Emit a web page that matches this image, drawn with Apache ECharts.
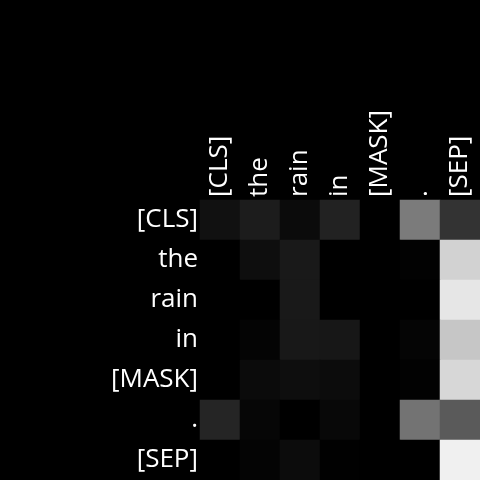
<!DOCTYPE html>
<html><head><meta charset="utf-8">
<script src="https://cdn.jsdelivr.net/npm/echarts@6/dist/echarts.min.js"></script>
<style>html,body{margin:0;padding:0;background:#000}#c{width:480px;height:480px}</style>
</head><body><div id="c"></div>
<script>
const tokens = ['[CLS]','the','rain','in','[MASK]','.','[SEP]'];
const weights = [
  [0.067,0.110,0.043,0.133,0.0,0.482,0.200],
  [0.0,0.055,0.098,0.0,0.0,0.008,0.824],
  [0.0,0.0,0.098,0.0,0.0,0.0,0.902],
  [0.0,0.016,0.094,0.090,0.0,0.020,0.776],
  [0.0,0.043,0.055,0.047,0.0,0.008,0.843],
  [0.145,0.024,0.0,0.031,0.0,0.451,0.353],
  [0.0,0.016,0.047,0.004,0.0,0.0,0.941]
];
const data = [];
weights.forEach((row,i)=>row.forEach((v,j)=>data.push([j,i,v])));
const chart = echarts.init(document.getElementById('c'));
chart.setOption({
  backgroundColor:'#000',
  animation:false,
  grid:{left:200,top:200,right:0,bottom:0},
  xAxis:{type:'category',data:tokens,position:'top',
    axisLine:{show:false},axisTick:{show:false},splitLine:{show:false},
    axisLabel:{rotate:-90,color:'#fff',fontSize:26,fontFamily:'Open Sans',margin:3,interval:0}},
  yAxis:{type:'category',data:tokens,inverse:true,
    axisLine:{show:false},axisTick:{show:false},splitLine:{show:false},
    axisLabel:{color:'#fff',fontSize:26,fontFamily:'Open Sans',margin:2,interval:0}},
  visualMap:{show:false,min:0,max:1,inRange:{color:['#000000','#ffffff']}},
  series:[{type:'heatmap',data:data,itemStyle:{borderWidth:0}}]
});
</script></body></html>
